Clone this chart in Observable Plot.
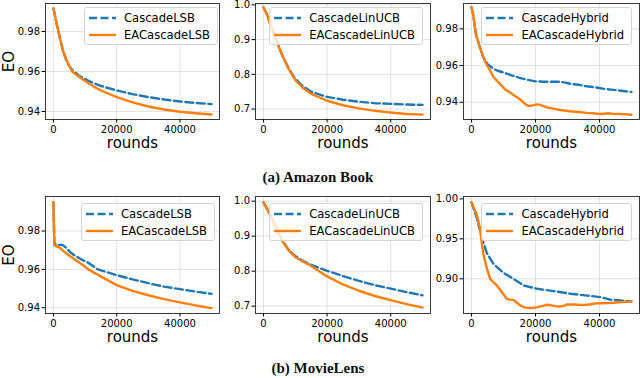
<!DOCTYPE html>
<html>
<head>
<meta charset="utf-8">
<script src="https://cdn.jsdelivr.net/npm/d3@7"></script>
<script src="https://cdn.jsdelivr.net/npm/@observablehq/plot@0.6"></script>
<style>
  html, body { margin: 0; padding: 0; background: #fff; }
  #fig { position: relative; width: 640px; height: 378px; overflow: hidden; font-family: "DejaVu Sans", sans-serif; }
  .panel { position: absolute; }
  .legend { position: absolute; background: rgba(255,255,255,0.8); border: 1px solid #d4d4d4; border-radius: 3px;
            padding: 1px 7px 1px 4px; font-family: "DejaVu Sans", sans-serif; font-size: 11.6px; color: #000; }
  .legend .row { display: flex; align-items: center; height: 17px; white-space: nowrap; }
  .legend svg { display: block; margin-right: 8px; }
  .caption { position: absolute; width: 240px; text-align: center; font-family: "Liberation Serif", serif;
             font-weight: bold; font-size: 15px; line-height: 16px; color: #111; }
</style>
</head>
<body>
<div id="fig"></div>
<script>
// ---------------- data ----------------
const xTicks = [0, 20000, 40000];
const gridX5 = [0, 500, 1000, 2000, 3000, 4000, 5000, 6000, 8000, 10000, 12500, 15000, 20000, 25000, 30000, 35000, 40000, 45000, 50000];

// (a) Amazon Book
const amazonLSB_x = gridX5;
const amazonLSB_cascade = [0.9915, 0.988, 0.984, 0.977, 0.9705, 0.966, 0.9628, 0.9607, 0.958, 0.9562, 0.9543, 0.9528, 0.9505, 0.9487, 0.9472, 0.946, 0.945, 0.9443, 0.9437];
const amazonLSB_ea      = [0.9915, 0.988, 0.984, 0.977, 0.9705, 0.966, 0.9628, 0.9598, 0.9575, 0.9553, 0.9527, 0.9505, 0.9472, 0.9446, 0.9425, 0.941, 0.9399, 0.9391, 0.9385];

const amazonLinUCB_x = gridX5;
const amazonLinUCB_cascade = [0.993, 0.984, 0.975, 0.949, 0.924, 0.900, 0.876, 0.853, 0.816, 0.787, 0.765, 0.750, 0.735, 0.727, 0.721, 0.717, 0.715, 0.713, 0.712];
const amazonLinUCB_ea      = [0.993, 0.984, 0.975, 0.949, 0.924, 0.900, 0.876, 0.853, 0.814, 0.783, 0.760, 0.744, 0.724, 0.711, 0.702, 0.695, 0.690, 0.686, 0.684];

const amazonHybrid_cascade_x = [0, 500, 1400, 2600, 3700, 5000, 6500, 8000, 10000, 12500, 15000, 17500, 20000, 22500, 25000, 27500, 29000, 31000, 33500, 36000, 38500, 41000, 43500, 46000, 48000, 50000];
const amazonHybrid_cascade   = [0.9918, 0.988, 0.977, 0.970, 0.9645, 0.9608, 0.9587, 0.9573, 0.9562, 0.9547, 0.9533, 0.9522, 0.9514, 0.9512, 0.9512, 0.9512, 0.9508, 0.9500, 0.9495, 0.9487, 0.9482, 0.9474, 0.9469, 0.9464, 0.9460, 0.9456];
const amazonHybrid_ea_x = [0, 500, 1400, 2600, 3700, 4700, 5800, 7000, 8900, 10500, 11900, 13500, 15000, 16200, 17100, 18000, 19000, 20300, 21300, 22300, 23400, 25500, 27600, 30800, 33500, 36000, 38000, 40200, 41500, 42300, 44000, 46500, 48500, 50000];
const amazonHybrid_ea   = [0.9918, 0.988, 0.977, 0.970, 0.9645, 0.9605, 0.9573, 0.9535, 0.950, 0.947, 0.9455, 0.9435, 0.9418, 0.9400, 0.9385, 0.9380, 0.9382, 0.9388, 0.9387, 0.9380, 0.9373, 0.9365, 0.9358, 0.9351, 0.9347, 0.9342, 0.9340, 0.9336, 0.9337, 0.9340, 0.9337, 0.9336, 0.9334, 0.9332];

// (b) MovieLens
const movieLSB_cascade_x = [0, 300, 1000, 2000, 2800, 3500, 4300, 5300, 6500, 8500, 11000, 14000, 17000, 20000, 25000, 30000, 35000, 40000, 45000, 50000];
const movieLSB_cascade   = [0.995, 0.9735, 0.9728, 0.9728, 0.9728, 0.972, 0.9708, 0.969, 0.9675, 0.9655, 0.9635, 0.960, 0.9585, 0.957, 0.9548, 0.9528, 0.951, 0.9497, 0.9484, 0.9472];
const movieLSB_ea_x = [0, 300, 1000, 2100, 3200, 4300, 6400, 9500, 11000, 14800, 20000, 25000, 30000, 35000, 40000, 45000, 50000];
const movieLSB_ea   = [0.995, 0.9725, 0.972, 0.9712, 0.9695, 0.968, 0.9656, 0.962, 0.960, 0.9565, 0.9518, 0.9488, 0.9465, 0.9445, 0.9428, 0.9412, 0.9398];

const movieLinUCB_x = [0, 1000, 2000, 3000, 4000, 5000, 6000, 8000, 10000, 12500, 15000, 20000, 25000, 30000, 35000, 40000, 45000, 50000];
const movieLinUCB_cascade = [0.997, 0.98, 0.963, 0.944, 0.925, 0.905, 0.886, 0.860, 0.843, 0.829, 0.818, 0.801, 0.786, 0.772, 0.760, 0.750, 0.740, 0.731];
const movieLinUCB_ea      = [0.997, 0.98, 0.963, 0.944, 0.925, 0.905, 0.886, 0.858, 0.840, 0.827, 0.815, 0.785, 0.762, 0.744, 0.729, 0.717, 0.706, 0.696];

const movieHybrid_cascade_x = [0, 1600, 3200, 4700, 6800, 9800, 13100, 16300, 20500, 25700, 31000, 36200, 40400, 43600, 46700, 50000];
const movieHybrid_cascade   = [0.9958, 0.977, 0.952, 0.933, 0.919, 0.908, 0.900, 0.8917, 0.8875, 0.8846, 0.8813, 0.879, 0.877, 0.8737, 0.873, 0.8717];
const movieHybrid_ea_x = [0, 1000, 1600, 2600, 3200, 3700, 4700, 5800, 6800, 7900, 9000, 9900, 11000, 12000, 13100, 14200, 15200, 16300, 17400, 18500, 19400, 20500, 21600, 22600, 23600, 24600, 25700, 26700, 27800, 29000, 29900, 31500, 33100, 34700, 36200, 37800, 39400, 41000, 42500, 44500, 46700, 48500, 50000];
const movieHybrid_ea   = [0.9958, 0.986, 0.981, 0.9646, 0.945, 0.931, 0.9146, 0.900, 0.896, 0.8917, 0.886, 0.881, 0.875, 0.874, 0.8737, 0.870, 0.8667, 0.8645, 0.8637, 0.8635, 0.8638, 0.8645, 0.8654, 0.8665, 0.8675, 0.867, 0.8662, 0.8655, 0.8654, 0.8665, 0.868, 0.8678, 0.8675, 0.8672, 0.8675, 0.8685, 0.8696, 0.8694, 0.8696, 0.870, 0.871, 0.8712, 0.8717];

const legendNames = {
  lsb: ["CascadeLSB", "EACascadeLSB"],
  linucb: ["CascadeLinUCB", "EACascadeLinUCB"],
  hybrid: ["CascadeHybrid", "EACascadeHybrid"]
};
const captions = ["(a) Amazon Book", "(b) MovieLens"];

const zip = (xs, ys) => xs.map((x, i) => ({x, y: ys[i]}));

const BLUE = "#1f77b4", ORANGE = "#ff7f0e";
const DASH = "8,3.5";

const panels = [
  {row: 0, col: 0, cx: amazonLSB_x, c: amazonLSB_cascade, ex: amazonLSB_x, e: amazonLSB_ea,
   yDomain: [0.9360, 0.9940], yTicks: [0.94, 0.96, 0.98], fmt: ".2f", names: legendNames.lsb, legRight: 218},
  {row: 0, col: 1, cx: amazonLinUCB_x, c: amazonLinUCB_cascade, ex: amazonLinUCB_x, e: amazonLinUCB_ea,
   yDomain: [0.670, 1.004], yTicks: [0.7, 0.8, 0.9, 1.0], fmt: ".1f", names: legendNames.linucb, legRight: 423},
  {row: 0, col: 2, cx: amazonHybrid_cascade_x, c: amazonHybrid_cascade, ex: amazonHybrid_ea_x, e: amazonHybrid_ea,
   yDomain: [0.9306, 0.9938], yTicks: [0.94, 0.96, 0.98], fmt: ".2f", names: legendNames.hybrid, legRight: 632},
  {row: 1, col: 0, cx: movieLSB_cascade_x, c: movieLSB_cascade, ex: movieLSB_ea_x, e: movieLSB_ea,
   yDomain: [0.9370, 0.9980], yTicks: [0.94, 0.96, 0.98], fmt: ".2f", names: legendNames.lsb, legRight: 215},
  {row: 1, col: 1, cx: movieLinUCB_x, c: movieLinUCB_cascade, ex: movieLinUCB_x, e: movieLinUCB_ea,
   yDomain: [0.679, 1.0134], yTicks: [0.7, 0.8, 0.9, 1.0], fmt: ".1f", names: legendNames.linucb, legRight: 423},
  {row: 1, col: 2, cx: movieHybrid_cascade_x, c: movieHybrid_cascade, ex: movieHybrid_ea_x, e: movieHybrid_ea,
   yDomain: [0.8566, 1.003], yTicks: [0.90, 0.95, 1.00], fmt: ".2f", names: legendNames.hybrid, legRight: 632}
];

// layout
const cols = [
  {left: 0, width: 222, ml: 45, mr: 3},
  {left: 222, width: 212, ml: 33, mr: 4},
  {left: 434, width: 206, ml: 29, mr: 1}
];
const rows = [
  {top: 0, height: 160, mt: 3, mb: 41, legTop: 7},
  {top: 190, height: 158, mt: 6, mb: 35, legTop: 203}
];

const fig = document.getElementById("fig");

for (const p of panels) {
  const C = cols[p.col], R = rows[p.row];
  const marks = [
    Plot.gridX(xTicks, {stroke: "#b0b0b0", strokeOpacity: 0.45, strokeWidth: 0.8}),
    Plot.gridY(p.yTicks, {stroke: "#b0b0b0", strokeOpacity: 0.45, strokeWidth: 0.8}),
    Plot.line(zip(p.cx, p.c), {x: "x", y: "y", stroke: BLUE, strokeWidth: 2.4, strokeDasharray: DASH}),
    Plot.line(zip(p.ex, p.e), {x: "x", y: "y", stroke: ORANGE, strokeWidth: 2.4}),
    Plot.frame({stroke: "#262626", strokeWidth: 0.9}),
    Plot.axisX(xTicks, {tickFormat: d3.format("d"), tickSize: 3.5, tickPadding: 2.5, fontSize: 10, label: null}),
    Plot.axisY(p.yTicks, {tickFormat: d3.format(p.fmt), tickSize: 3.5, tickPadding: 2, fontSize: 10, label: null}),
    Plot.text(["rounds"], {frameAnchor: "bottom", lineAnchor: "middle", textAnchor: "middle", dy: 24, fontSize: 15, fill: "#000"})
  ];
  if (p.col === 0) {
    marks.push(Plot.text(["EO"], {frameAnchor: "left", lineAnchor: "middle", textAnchor: "middle", dx: -36, rotate: -90, fontSize: 15, fill: "#000"}));
  }
  const svg = Plot.plot({
    width: C.width, height: R.height,
    marginLeft: C.ml, marginRight: C.mr, marginTop: R.mt, marginBottom: R.mb,
    style: {fontFamily: "DejaVu Sans", fontSize: "10px", background: "transparent", overflow: "visible", color: "#000"},
    x: {domain: [-2500, 52500]},
    y: {domain: p.yDomain},
    marks
  });
  const wrap = document.createElement("div");
  wrap.className = "panel";
  wrap.style.left = C.left + "px";
  wrap.style.top = R.top + "px";
  wrap.appendChild(svg);
  fig.appendChild(wrap);

  // legend
  const leg = document.createElement("div");
  leg.className = "legend";
  leg.style.right = (640 - p.legRight) + "px";
  leg.style.top = R.legTop + "px";
  const styles = [{stroke: BLUE, dash: DASH}, {stroke: ORANGE, dash: null}];
  p.names.forEach((name, i) => {
    const row = document.createElement("div");
    row.className = "row";
    const s = styles[i];
    row.innerHTML = `<svg width="27" height="10"><line x1="0" y1="5" x2="27" y2="5" stroke="${s.stroke}" stroke-width="2.4"${s.dash ? ` stroke-dasharray="${s.dash}"` : ""}/></svg><span>${name}</span>`;
    leg.appendChild(row);
  });
  fig.appendChild(leg);
}

// captions
[169, 360].forEach((top, i) => {
  const cap = document.createElement("div");
  cap.className = "caption";
  cap.style.left = "198px";
  cap.style.top = top + "px";
  cap.textContent = captions[i];
  fig.appendChild(cap);
});
</script>
</body>
</html>
